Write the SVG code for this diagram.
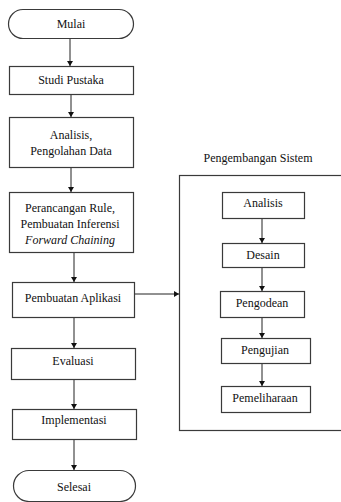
<svg xmlns="http://www.w3.org/2000/svg" width="341" height="502" viewBox="0 0 341 502" font-family="'Liberation Serif', 'Times New Roman', serif">
<defs>
<style>
.b{fill:#fff;stroke:#3a3a3a;stroke-width:1.2}
.t{font-size:12px;fill:#111;text-anchor:middle}
.i{font-style:italic}
.c{stroke:#222;stroke-width:1;fill:none}
</style>
<marker id="ah" markerWidth="6" markerHeight="6" refX="5" refY="3" orient="auto" markerUnits="userSpaceOnUse">
<path d="M0,0 L5,3 L0,6 Z" fill="#111"/>
</marker>
</defs>
<rect width="341" height="502" fill="#fff"/>
<g id="connectors">
<line class="c" x1="70" y1="38" x2="70" y2="66" marker-end="url(#ah)"/>
<line class="c" x1="71" y1="94" x2="71" y2="117" marker-end="url(#ah)"/>
<line class="c" x1="71" y1="167" x2="71" y2="192" marker-end="url(#ah)"/>
<line class="c" x1="74" y1="252" x2="74" y2="282" marker-end="url(#ah)"/>
<line class="c" x1="74" y1="317" x2="74" y2="348" marker-end="url(#ah)"/>
<line class="c" x1="74" y1="379" x2="74" y2="409" marker-end="url(#ah)"/>
<line class="c" x1="74" y1="439" x2="74" y2="470" marker-end="url(#ah)"/>
<line class="c" x1="135" y1="294" x2="179" y2="294" marker-end="url(#ah)"/>
<line class="c" x1="262" y1="218" x2="262" y2="243" marker-end="url(#ah)"/>
<line class="c" x1="262" y1="267" x2="262" y2="291" marker-end="url(#ah)"/>
<line class="c" x1="262" y1="317" x2="262" y2="338" marker-end="url(#ah)"/>
<line class="c" x1="262" y1="363" x2="262" y2="386" marker-end="url(#ah)"/>
</g>
<g id="mulai"><rect class="b" x="8.5" y="9.5" width="125" height="29" rx="14.5"/><text class="t" x="71" y="28">Mulai</text></g>
<g id="studi"><rect class="b" x="9.5" y="66.5" width="124" height="28"/><text class="t" x="71" y="84">Studi Pustaka</text></g>
<g id="analisis-data"><rect class="b" x="9.5" y="117.5" width="124" height="50"/><text class="t" x="71" y="139">Analisis,</text><text class="t" x="71" y="155">Pengolahan Data</text></g>
<g id="perancangan"><rect class="b" x="9.5" y="192.5" width="124" height="60"/><text class="t" x="70" y="212">Perancangan Rule,</text><text class="t" x="70" y="228">Pembuatan Inferensi</text><text class="t i" x="70" y="244">Forward Chaining</text></g>
<g id="pembuatan"><rect class="b" x="12.5" y="282.5" width="122" height="35"/><text class="t" x="73" y="302">Pembuatan Aplikasi</text></g>
<g id="evaluasi"><rect class="b" x="11.5" y="348.5" width="124" height="31"/><text class="t" x="73" y="365">Evaluasi</text></g>
<g id="implementasi"><rect class="b" x="12.5" y="409.5" width="124" height="30"/><text class="t" x="74" y="424">Implementasi</text></g>
<g id="selesai"><rect class="b" x="13.5" y="470.5" width="122" height="31" rx="15.5"/><text class="t" x="74" y="491">Selesai</text></g>
<g id="pengembangan"><text class="t" x="258" y="162">Pengembangan Sistem</text><rect class="b" x="179.5" y="175.5" width="220" height="255" style="fill:none"/></g>
<g id="s-analisis"><rect class="b" x="222.5" y="192.5" width="82" height="26"/><text class="t" x="263" y="207">Analisis</text></g>
<g id="s-desain"><rect class="b" x="222.5" y="243.5" width="82" height="24"/><text class="t" x="263" y="259">Desain</text></g>
<g id="s-pengodean"><rect class="b" x="220.5" y="291.5" width="84" height="26"/><text class="t" x="262" y="307">Pengodean</text></g>
<g id="s-pengujian"><rect class="b" x="221.5" y="338.5" width="89" height="25"/><text class="t" x="265" y="354">Pengujian</text></g>
<g id="s-pemeliharaan"><rect class="b" x="221.5" y="386.5" width="89" height="26"/><text class="t" x="265" y="402">Pemeliharaan</text></g>
</svg>
